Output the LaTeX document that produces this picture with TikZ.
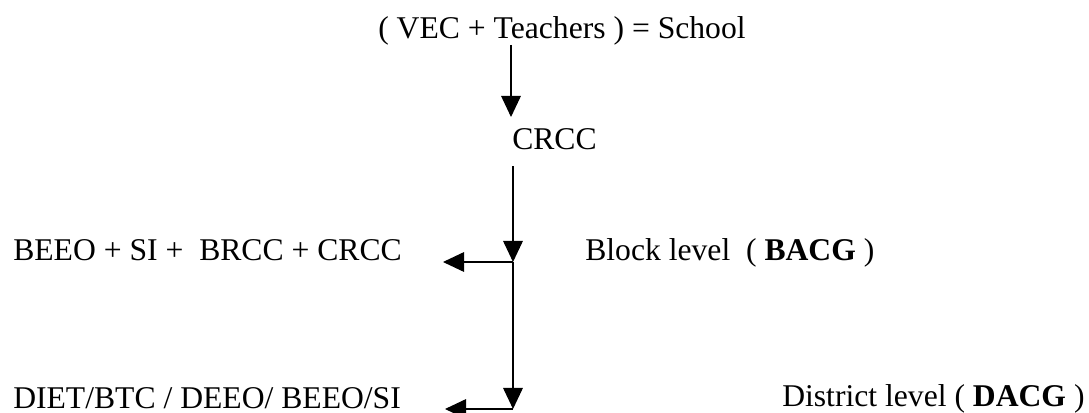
\documentclass[tikz,border=0pt]{standalone}
\usepackage{fontspec}
\setmainfont{Liberation Serif}
\usetikzlibrary{positioning, arrows.meta}

\begin{document}
\begin{tikzpicture}[
  x=0.025cm, y=-0.025cm,
  >={Triangle[length=15pt, width=14pt]},
  every node/.style={font=\fontsize{22.5}{27}\selectfont, inner sep=0pt},
  label/.style={anchor=base west},
  flow/.style={->, line width=0.8pt}
]
\useasboundingbox (0,0) rectangle (1089,413);

% Top: school and cluster
\node[label] (school) at (378,39) {( VEC + Teachers ) = School};
\node[label] (crcc) at (512,149) {CRCC};

% Block level row
\node[label] (blockgrp) at (13,260) {BEEO + SI +\ \ BRCC + CRCC};
\node[label] (blocklvl) at (585,260) {Block level\ \ ( \textbf{BACG} )};

% District level row
\node[label] (distgrp) at (13,408) {DIET/BTC / DEEO/ BEEO/SI};
\node[label] (distlvl) at (782,406) {District level ( \textbf{DACG} )};

% Junctions on the main line
\coordinate (top) at (511,45);
\coordinate (crcctop) at (511,117);
\coordinate (crccbot) at (513,166);
\coordinate (jblock) at (513,262);
\coordinate (jdist) at (513,409);
\coordinate (eblock) at (443,262);
\coordinate (edist) at (445,409);

\draw[flow] (top) -- (crcctop);
\draw[flow] (crccbot) -- (jblock);
\draw[flow] (jblock) -- (jdist);
\draw[flow] (jblock) -- (eblock);
\draw[flow] (jdist) -- (edist);

\end{tikzpicture}
\end{document}
